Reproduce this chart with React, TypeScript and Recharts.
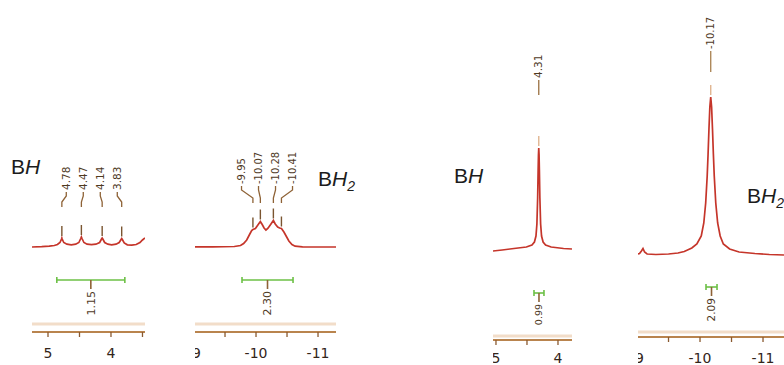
import { LineChart, Line, XAxis, YAxis, ReferenceLine } from "recharts";

// spectra: [ppm, intensity above baseline]
const spectrumBH1: [number, number][] = [
  [5.254, 0], [5.1, 0.3], [4.98, 0.8], [4.9, 1.5], [4.85, 2.5], [4.81, 4.5], [4.785, 8], [4.78, 9], [4.775, 8],
  [4.75, 4.5], [4.7, 2.8], [4.63, 2.2], [4.56, 2.8], [4.51, 4.5], [4.48, 8.5], [4.47, 10], [4.46, 8.5],
  [4.43, 4.5], [4.38, 2.8], [4.31, 2.3], [4.24, 2.8], [4.18, 4.5], [4.15, 8], [4.14, 9], [4.13, 8],
  [4.1, 4.5], [4.05, 2.8], [3.99, 2.2], [3.92, 2.8], [3.87, 4.5], [3.84, 7.5], [3.83, 8.5], [3.82, 7.5],
  [3.79, 4], [3.74, 2.2], [3.67, 1.8], [3.6, 2.5], [3.54, 4.5], [3.5, 7], [3.46, 9],
];
const spectrumBH2a: [number, number][] = [
  [-8.774, 0], [-9.3, 0.2], [-9.65, 0.5], [-9.75, 1.5], [-9.8, 3.5], [-9.85, 7], [-9.9, 13], [-9.93, 16.5],
  [-9.95, 17.5], [-9.99, 18.5], [-10.03, 22], [-10.07, 25.5], [-10.1, 22.5], [-10.13, 19], [-10.16, 17],
  [-10.19, 18.5], [-10.23, 22], [-10.28, 26.5], [-10.31, 23], [-10.35, 20], [-10.38, 19], [-10.41, 18.5],
  [-10.45, 15], [-10.49, 10.5], [-10.53, 6], [-10.58, 2.5], [-10.63, 0.8], [-10.75, 0.2], [-11.0, 0], [-11.29, 0],
];
const spectrumBH1b: [number, number][] = [
  [5.048, -1], [4.9, 0], [4.71, 1.5], [4.51, 3], [4.42, 5], [4.38, 8], [4.355, 14], [4.34, 26], [4.328, 52],
  [4.32, 80], [4.315, 95], [4.31, 102], [4.305, 95], [4.3, 80], [4.292, 52], [4.28, 26], [4.265, 14],
  [4.24, 8], [4.2, 5], [4.11, 3], [3.91, 1.5], [3.774, 1],
];
const spectrumBH2b: [number, number][] = [
  [-8.73, 0], [-8.98, 0.5], [-9.04, 1.5], [-9.07, 4], [-9.095, 6.5], [-9.12, 3], [-9.16, 1], [-9.3, 0.5],
  [-9.5, 1], [-9.65, 2], [-9.75, 3.5], [-9.87, 7], [-9.95, 11], [-10.02, 19], [-10.06, 32], [-10.09, 52],
  [-10.114, 79], [-10.128, 101], [-10.142, 126], [-10.156, 148], [-10.17, 158], [-10.184, 148],
  [-10.198, 126], [-10.212, 101], [-10.226, 79], [-10.25, 52], [-10.28, 32], [-10.32, 19], [-10.37, 11],
  [-10.47, 6], [-10.62, 3], [-10.87, 1.5], [-11.1, 0.5], [-11.333, 0],
];

const peaksBH1 = [4.78, 4.47, 4.14, 3.83];
const peaksBH2a = [-9.95, -10.07, -10.28, -10.41];
const peaksBH1b = [4.31];
const peaksBH2b = [-10.17];

const integralBH1 = { from: 4.86, to: 3.78, value: "1.15" };
const integralBH2a = { from: -9.774, to: -10.597, value: "2.30" };
const integralBH1b = { from: 4.387, to: 4.226, value: "0.99" };
const integralBH2b = { from: -10.095, to: -10.27, value: "2.09" };

const ticksBH = [3.5, 4, 4.5, 5];
const ticksBH2 = [-11, -10.5, -10, -9.5, -9];

const RED = "#c5352a";
const AXIS = "#b9844e";
const BEIGE = "#f2ddc9";
const GREEN = "#6cc046";
const LABEL = "#4f3a1f";
const CONN = "#8e6236";

type Layout = {
  chartLeft: number; width: number; clipLeft: number; clipWidth: number;
  domain: [number, number]; axisY: number; baseY: number; beigeY: number; barY: number;
  labelBottom: number; connEnd: number; tickMargin: number; peakFont: number; intFont: number;
  tickColor: string; connColor: string;
};

type PanelProps = {
  spectrum: [number, number][];
  peaks: number[];
  integral: { from: number; to: number; value: string };
  ticks: number[];
  layout: Layout;
};

const Panel = ({ spectrum, peaks, integral, ticks, layout: p }: PanelProps) => {
  const [lo, hi] = p.domain;
  const k = p.width / (hi - lo);
  const toV = (px: number) => p.baseY - px;
  const spec = spectrum.map(([ppm, v]) => ({ ppm, v }));
  const mean = peaks.reduce((a, b) => a + b, 0) / peaks.length;
  const n = peaks.length;
  const peakPts = peaks.map((ppm) => {
    const near = spec.reduce((a, b) => (Math.abs(b.ppm - ppm) < Math.abs(a.ppm - ppm) ? b : a));
    return { ppm, v: near.v };
  });
  const intPts = [{ ppm: (integral.from + integral.to) / 2, v: toV(p.barY) }];

  const renderPeak = (props: any) => {
    const { cx, cy, payload, index } = props;
    const meanX = cx + (payload.ppm - mean) * k;
    const lx = meanX + (index - (n - 1) / 2) * 17;
    const yT = p.labelBottom;
    const yC = p.connEnd;
    return (
      <g key={`pk-${index}`}>
        <path
          d={`M${lx},${yT + 2} L${lx},${yT + 6} L${cx},${yC - 5} L${cx},${yC}`}
          fill="none"
          stroke={p.connColor}
          strokeWidth={1.3}
        />
        <line x1={cx} x2={cx} y1={cy - 2} y2={cy - 12} stroke={p.tickColor} strokeWidth={1.4} />
        <text
          x={lx}
          y={yT}
          dy="0.35em"
          transform={`rotate(-90 ${lx} ${yT})`}
          textAnchor="start"
          fontFamily="DejaVu Sans"
          fontSize={p.peakFont}
          fill={LABEL}
        >
          {payload.ppm.toFixed(2)}
        </text>
      </g>
    );
  };

  const renderIntegral = (props: any) => {
    const { cx, cy } = props;
    const half = ((integral.from - integral.to) / 2) * k;
    return (
      <g key="int">
        <line x1={cx - half} x2={cx + half} y1={cy} y2={cy} stroke={GREEN} strokeWidth={1.6} />
        <line x1={cx - half} x2={cx - half} y1={cy - 3} y2={cy + 3} stroke={GREEN} strokeWidth={1.6} />
        <line x1={cx + half} x2={cx + half} y1={cy - 3} y2={cy + 3} stroke={GREEN} strokeWidth={1.6} />
        <line x1={cx} x2={cx} y1={cy} y2={cy + 9} stroke={CONN} strokeWidth={1.6} />
        <text
          x={cx}
          y={cy + 11}
          dy="0.35em"
          transform={`rotate(-90 ${cx} ${cy + 11})`}
          textAnchor="end"
          fontFamily="DejaVu Sans"
          fontSize={p.intFont}
          fill={LABEL}
        >
          {integral.value}
        </text>
      </g>
    );
  };

  return (
    <div style={{ position: "absolute", left: p.clipLeft, top: 0, width: p.clipWidth, height: 365, overflow: "hidden" }}>
      <div style={{ position: "absolute", left: p.chartLeft - p.clipLeft, top: 0 }}>
        <LineChart width={p.width} height={365} margin={{ top: 0, right: 0, bottom: 0, left: 0 }}>
          <XAxis
            dataKey="ppm"
            type="number"
            domain={[lo, hi]}
            reversed
            allowDataOverflow
            ticks={ticks}
            interval={0}
            tickFormatter={(t: number) => (Number.isInteger(t) ? String(t) : "")}
            height={365 - p.axisY}
            tickSize={5}
            tickMargin={p.tickMargin}
            axisLine={{ stroke: AXIS, strokeWidth: 2 }}
            tickLine={{ stroke: "#8a5a30", strokeWidth: 1.3 }}
            tick={{ fontSize: 14, fontFamily: "DejaVu Sans", fill: "#33251a" }}
          />
          <YAxis hide type="number" domain={[-(p.axisY - p.baseY), p.baseY]} allowDataOverflow />
          <ReferenceLine y={toV(p.beigeY)} stroke={BEIGE} strokeWidth={3} />
          <Line
            data={spec}
            dataKey="v"
            type="linear"
            stroke={RED}
            strokeWidth={1.7}
            dot={false}
            activeDot={false}
            isAnimationActive={false}
          />
          <Line
            data={peakPts}
            dataKey="v"
            stroke="none"
            dot={renderPeak}
            activeDot={false}
            isAnimationActive={false}
          />
          <Line
            data={intPts}
            dataKey="v"
            stroke="none"
            dot={renderIntegral}
            activeDot={false}
            isAnimationActive={false}
          />
        </LineChart>
      </div>
    </div>
  );
};

const layout1: Layout = {
  chartLeft: 32, width: 113, clipLeft: 32, clipWidth: 113, domain: [3.46, 5.254],
  axisY: 332, baseY: 247, beigeY: 324, barY: 280, labelBottom: 190, connEnd: 207, tickMargin: 11,
  peakFont: 10.5, intFont: 11, tickColor: "#7a5530", connColor: CONN,
};
const layout2: Layout = {
  chartLeft: 180, width: 156, clipLeft: 195, clipWidth: 141, domain: [-11.29, -8.774],
  axisY: 332, baseY: 247, beigeY: 324, barY: 280, labelBottom: 184, connEnd: 203, tickMargin: 11,
  peakFont: 10, intFont: 11, tickColor: "#7a5530", connColor: CONN,
};
const layout3: Layout = {
  chartLeft: 493, width: 79, clipLeft: 493, clipWidth: 79, domain: [3.774, 5.048],
  axisY: 340, baseY: 250, beigeY: 336, barY: 293, labelBottom: 78, connEnd: 95, tickMargin: 8,
  peakFont: 10.5, intFont: 9.5, tickColor: "#e0b590", connColor: "#9a7040",
};
const layout4: Layout = {
  chartLeft: 620, width: 164, clipLeft: 638, clipWidth: 146, domain: [-11.333, -8.73],
  axisY: 337, baseY: 255, beigeY: 332, barY: 287, labelBottom: 49, connEnd: 72, tickMargin: 11,
  peakFont: 10, intFont: 10.5, tickColor: "#e0b590", connColor: "#a8804e",
};

export default function App() {
  return (
    <div style={{ position: "absolute", left: 0, top: 0, width: 784, height: 365, background: "#fff", overflow: "hidden" }}>
      <Panel spectrum={spectrumBH1} peaks={peaksBH1} integral={integralBH1} ticks={ticksBH} layout={layout1} />
      <Panel spectrum={spectrumBH2a} peaks={peaksBH2a} integral={integralBH2a} ticks={ticksBH2} layout={layout2} />
      <Panel spectrum={spectrumBH1b} peaks={peaksBH1b} integral={integralBH1b} ticks={ticksBH} layout={layout3} />
      <Panel spectrum={spectrumBH2b} peaks={peaksBH2b} integral={integralBH2b} ticks={ticksBH2} layout={layout4} />
      <svg width={784} height={365} style={{ position: "absolute", left: 0, top: 0, pointerEvents: "none" }}>
        <g fontFamily="Liberation Sans" fontSize={21} fill="#1c1c1c">
          <text x={11} y={174}>B<tspan fontStyle="italic">H</tspan></text>
          <text x={318} y={186}>
            B<tspan fontStyle="italic">H</tspan>
            <tspan fontStyle="italic" fontSize={14} dy={5}>2</tspan>
          </text>
          <text x={454} y={183}>B<tspan fontStyle="italic">H</tspan></text>
          <text x={747} y={203}>
            B<tspan fontStyle="italic">H</tspan>
            <tspan fontStyle="italic" fontSize={14} dy={5}>2</tspan>
          </text>
        </g>
      </svg>
    </div>
  );
}
